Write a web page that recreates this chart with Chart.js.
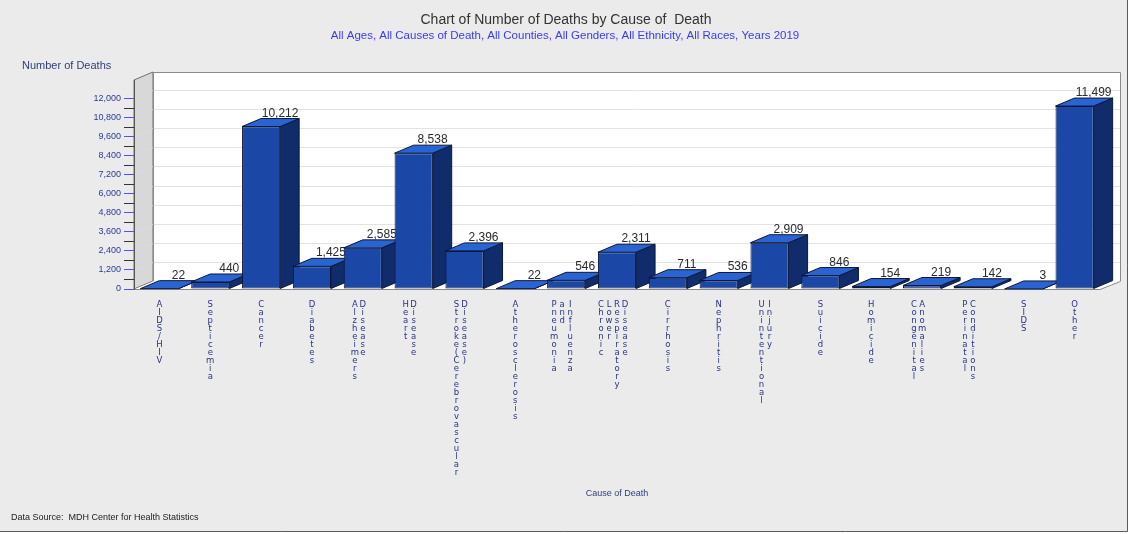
<!DOCTYPE html>
<html>
<head>
<meta charset="utf-8">
<title>Number of Deaths by Cause of Death</title>
<script src="https://cdn.jsdelivr.net/npm/chart.js@4.4.1/dist/chart.umd.min.js"></script>
<style>
  html, body { margin: 0; padding: 0; background: #ffffff; }
  #wrap { width: 1130px; height: 534px; position: relative; }
  canvas { display: block; }
</style>
</head>
<body>
<div id="wrap"><canvas id="chart" width="1130" height="534"></canvas></div>
<script>
// Causes of death (words are stacked as vertical columns under each bar)
const causes = [
  "AIDS/HIV",
  "Septicemia",
  "Cancer",
  "Diabetes",
  "Alzheimers Disease",
  "Heart Disease",
  "Stroke(Cerebrovascular Disease)",
  "Atherosclerosis",
  "Pneumonia and Influenza",
  "Chronic Lower Respiratory Disease",
  "Cirrhosis",
  "Nephritis",
  "Unintentional Injury",
  "Suicide",
  "Homicide",
  "Congenital Anomalies",
  "Perinatal Conditions",
  "SIDS",
  "Other"
];

// Number of deaths, 2019
const deaths = [22, 440, 10212, 1425, 2585, 8538, 2396, 22, 546, 2311, 711, 536, 2909, 846, 154, 219, 142, 3, 11499];

// Value axis ticks
const yTicks = [0, 1200, 2400, 3600, 4800, 6000, 7200, 8400, 9600, 10800, 12000];
const yMinorTicks = [600, 1800, 3000, 4200, 5400, 6600, 7800, 9000, 10200, 11400];

const chartTitle = "Chart of Number of Deaths by Cause of  Death";
const chartSubtitle = "All Ages, All Causes of Death, All Counties, All Genders, All Ethnicity, All Races, Years 2019";
const yAxisTitle = "Number of Deaths";
const xAxisTitle = "Cause of Death";
const sourceNote = "Data Source:  MDH Center for Health Statistics";

// 3D depth of the bars and walls
const DX = 19, DY = 8;

const FRONT = '#1b48a6';
const TOP = '#2a64d2';
const SIDE = '#102c6a';
const EDGE = '#0b1838';

const fmt = v => v.toLocaleString('en-US');

const scenePlugin = {
  id: 'scene3d',
  beforeDraw(chart) {
    const { ctx, chartArea: a, scales: { y } } = chart;
    ctx.save();
    // page background
    ctx.fillStyle = '#ebebeb';
    ctx.fillRect(0, 0, 1128, 532);

    const L = a.left, R = a.right, T = a.top, B = a.bottom;
    const wallTop = T - DY;

    // back wall
    ctx.fillStyle = '#ffffff';
    ctx.fillRect(L + DX, wallTop, R - L + 1, B - DY - wallTop);

    // grid lines on the back wall
    yTicks.slice(1).forEach(v => {
      const py = Math.round(y.getPixelForValue(v)) + 0.5;
      ctx.strokeStyle = '#e3e3e3';
      ctx.lineWidth = 1;
      ctx.beginPath();
      ctx.moveTo(L + DX, py - DY);
      ctx.lineTo(R + DX + 1, py - DY);
      ctx.stroke();
    });

    // left side wall
    ctx.beginPath();
    ctx.moveTo(L, T);
    ctx.lineTo(L + DX, wallTop);
    ctx.lineTo(L + DX, B - DY);
    ctx.lineTo(L, B);
    ctx.closePath();
    ctx.fillStyle = '#d8d8d8';
    ctx.fill();
    ctx.strokeStyle = '#6f6f6f';
    ctx.stroke();
    yTicks.slice(1).forEach(v => {
      const py = Math.round(y.getPixelForValue(v)) + 0.5;
      ctx.strokeStyle = '#dcdcdc';
      ctx.beginPath();
      ctx.moveTo(L + 1, py);
      ctx.lineTo(L + DX, py - DY);
      ctx.stroke();
    });

    // back wall outline
    ctx.strokeStyle = '#8a8a8a';
    ctx.beginPath();
    ctx.moveTo(L + DX + 0.5, B - DY);
    ctx.lineTo(L + DX + 0.5, wallTop + 0.5);
    ctx.lineTo(R + DX + 1.5, wallTop + 0.5);
    ctx.lineTo(R + DX + 1.5, B - DY);
    ctx.stroke();

    // floor
    ctx.beginPath();
    ctx.moveTo(L, B + 0.5);
    ctx.lineTo(R, B + 0.5);
    ctx.lineTo(R + DX + 1.5, B - DY + 0.5);
    ctx.lineTo(L + DX, B - DY + 0.5);
    ctx.closePath();
    ctx.fillStyle = '#ffffff';
    ctx.fill();
    ctx.strokeStyle = '#8a8a8a';
    ctx.beginPath();
    ctx.moveTo(L, B + 0.5);
    ctx.lineTo(R, B + 0.5);
    ctx.lineTo(R + DX + 1.5, B - DY + 0.5);
    ctx.stroke();

    // minor ticks on the value axis
    ctx.strokeStyle = '#333333';
    yMinorTicks.forEach(v => {
      const py = Math.round(y.getPixelForValue(v)) + 0.5;
      ctx.beginPath();
      ctx.moveTo(L - 10, py);
      ctx.lineTo(L, py);
      ctx.stroke();
    });

    // titles and notes
    ctx.textBaseline = 'middle';
    ctx.textAlign = 'center';
    ctx.fillStyle = '#333333';
    ctx.font = '14px "Liberation Sans", Arial, sans-serif';
    ctx.fillText(chartTitle, 566, 20);
    ctx.fillStyle = '#3b3bf2';
    ctx.font = '11.5px "Liberation Sans", Arial, sans-serif';
    ctx.fillText(chartSubtitle, 565, 36);
    ctx.textAlign = 'left';
    ctx.fillStyle = '#2f3d7c';
    ctx.font = '11px "Liberation Sans", Arial, sans-serif';
    ctx.fillText(yAxisTitle, 22, 66);
    ctx.textAlign = 'center';
    ctx.font = '9px "Liberation Sans", Arial, sans-serif';
    ctx.fillText(xAxisTitle, 617, 494);
    ctx.textAlign = 'left';
    ctx.fillStyle = '#222222';
    ctx.fillText(sourceNote, 11, 518);

    // category labels: each word is a vertical column of letters
    const x = chart.scales.x;
    ctx.fillStyle = '#26358a';
    ctx.font = '8.5px "DejaVu Sans", Verdana, sans-serif';
    ctx.textAlign = 'center';
    causes.forEach((name, i) => {
      const cx = x.getPixelForValue(i);
      const words = name.split(' ');
      const n = words.length;
      words.forEach((w, j) => {
        const colX = n === 1 ? cx : cx + (j - (n - 1) / 2) * 8 - 4;
        [...w].forEach((ch, k) => ctx.fillText(ch, colX, 305 + k * 8));
      });
    });

    // outer frame
    ctx.fillStyle = '#ffffff';
    ctx.fillRect(1128, 0, 2, 534);
    ctx.fillRect(0, 532, 1130, 2);
    ctx.strokeStyle = '#5a5a5a';
    ctx.beginPath();
    ctx.moveTo(1127.5, 0);
    ctx.lineTo(1127.5, 531.5);
    ctx.lineTo(0, 531.5);
    ctx.stroke();
    ctx.restore();
  },
  beforeDatasetDraw(chart, args) {
    const { ctx } = chart;
    const meta = args.meta;
    ctx.save();
    meta.data.forEach((el, i) => {
      const { x, y, base, width } = el.getProps(['x', 'y', 'base', 'width'], true);
      const x0 = x - width / 2, x1 = x + width / 2;
      // front face, drawn by the bar element itself
      el.draw(ctx, chart.chartArea);
      ctx.lineWidth = 1;
      ctx.strokeStyle = EDGE;
      ctx.lineJoin = 'round';
      // side face
      ctx.beginPath();
      ctx.moveTo(x1, y);
      ctx.lineTo(x1 + DX, y - DY);
      ctx.lineTo(x1 + DX, base - DY);
      ctx.lineTo(x1, base);
      ctx.closePath();
      ctx.fillStyle = SIDE;
      ctx.fill();
      ctx.stroke();
      // top face
      ctx.beginPath();
      ctx.moveTo(x0, y);
      ctx.lineTo(x1, y);
      ctx.lineTo(x1 + DX, y - DY);
      ctx.lineTo(x0 + DX, y - DY);
      ctx.closePath();
      ctx.fillStyle = TOP;
      ctx.fill();
      ctx.stroke();
      // value label
      ctx.fillStyle = '#2a2a2a';
      ctx.font = '12px "Liberation Sans", Arial, sans-serif';
      ctx.textAlign = 'center';
      ctx.textBaseline = 'alphabetic';
      ctx.fillText(fmt(deaths[i]), x + DX, y - DY - 2);
    });
    ctx.restore();
    return false;
  }
};

new Chart(document.getElementById('chart'), {
  type: 'bar',
  data: {
    labels: causes,
    datasets: [{
      label: 'Number of Deaths',
      data: deaths,
      backgroundColor: FRONT,
      borderColor: EDGE,
      borderWidth: 1,
      borderSkipped: false,
      categoryPercentage: 1,
      barPercentage: 0.75
    }]
  },
  options: {
    responsive: false,
    animation: false,
    devicePixelRatio: 1,
    layout: { padding: { top: 80, right: 30, bottom: 245, left: 0 } },
    plugins: { legend: { display: false }, tooltip: { enabled: false }, title: { display: false } },
    scales: {
      x: { display: false },
      y: {
        position: 'left',
        min: 0,
        max: 13137,
        afterFit(scale) { scale.width = 134; },
        afterBuildTicks(scale) { scale.ticks = yTicks.map(v => ({ value: v })); },
        ticks: {
          autoSkip: false,
          padding: 3,
          color: '#2a3a9a',
          font: { family: '"Liberation Sans", Arial, sans-serif', size: 9 },
          callback: v => fmt(v)
        },
        grid: { drawOnChartArea: false, drawTicks: true, tickLength: 10, color: '#5050ff', lineWidth: 1 },
        border: { display: true, color: '#555555', width: 1 }
      }
    }
  },
  plugins: [scenePlugin]
});
</script>
</body>
</html>
